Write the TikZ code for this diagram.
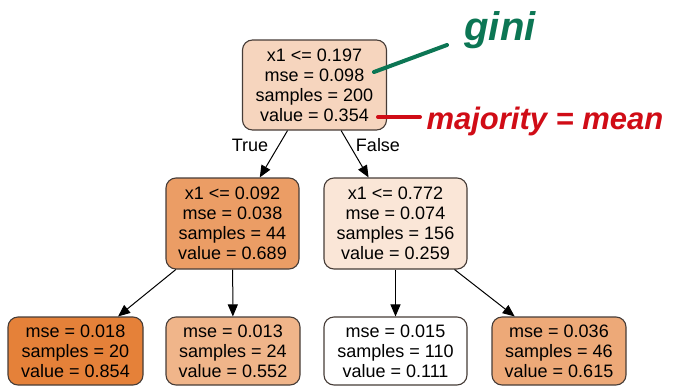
\documentclass[tikz,border=0pt]{standalone}
\usepackage{fontspec}
\setmainfont{Liberation Sans}
\usetikzlibrary{arrows.meta}

\definecolor{skorange}{RGB}{229,129,57}
\definecolor{boxline}{RGB}{70,60,55}
\definecolor{inkgreen}{RGB}{12,118,84}
\definecolor{inkred}{RGB}{208,12,22}

\tikzset{
  split/.style={draw=boxline, line width=1.1pt, rounded corners=10pt, align=center,
    inner sep=0pt, font=\fontsize{18}{20}\selectfont},
  edge/.style={-{Triangle[length=12pt,width=10pt]}, line width=1pt},
  ink/.style={line width=4pt, line cap=round},
}

\begin{document}
\begin{tikzpicture}[x=1pt,y=-1pt]
  \useasboundingbox (0,0) rectangle (680,386);

  \def\lw{134}   % leaf width
  \def\lh{68}    % leaf height

  % root
  \node[split, fill=skorange!33!white, minimum width=144pt, minimum height=90pt]
    (root) at (314.5,85) {x1 <= 0.197\\mse = 0.098\\samples = 200\\value = 0.354};

  % second row
  \node[split, fill=skorange!78!white, minimum width=133pt, minimum height=91pt]
    (lft) at (232.5,223.5) {x1 <= 0.092\\mse = 0.038\\samples = 44\\value = 0.689};
  \node[split, fill=skorange!20!white, minimum width=143pt, minimum height=91pt]
    (rgt) at (395.5,223.5) {x1 <= 0.772\\mse = 0.074\\samples = 156\\value = 0.259};

  % leaves
  \node[split, fill=skorange, minimum width=135pt, minimum height=\lh pt]
    (lftlft) at (75.5,351) {mse = 0.018\\samples = 20\\value = 0.854};
  \node[split, fill=skorange!59!white, minimum width=\lw pt, minimum height=\lh pt]
    (lftrgt) at (233,351) {mse = 0.013\\samples = 24\\value = 0.552};
  \node[split, fill=white, minimum width=143pt, minimum height=\lh pt]
    (rgtlft) at (395.5,351) {mse = 0.015\\samples = 110\\value = 0.111};
  \node[split, fill=skorange!68!white, minimum width=\lw pt, minimum height=\lh pt]
    (rgtrgt) at (559,351) {mse = 0.036\\samples = 46\\value = 0.615};

  % edges
  \draw[edge] (root) -- (lft);
  \draw[edge] (root) -- (rgt);
  \draw[edge] (lft) -- (lftlft);
  \draw[edge] (lft) -- (lftrgt);
  \draw[edge] (rgt) -- (rgtlft);
  \draw[edge] (rgt) -- (rgtrgt);

  \node[font=\fontsize{18}{20}\selectfont] (truelbl) at (250,145) {True};
  \node[font=\fontsize{18}{20}\selectfont] (falselbl) at (378,145) {False};

  % notes
  \coordinate (ginitip) at (374,72);
  \coordinate (giniend) at (447,45);
  \draw[ink, draw=inkgreen] (ginitip) -- (giniend);
  \node[text=inkgreen, font=\fontsize{40}{42}\selectfont\bfseries\itshape]
    (gini) at (500,30) {gini};

  \coordinate (meantip) at (378,117);
  \coordinate (meanend) at (420,117);
  \draw[ink, draw=inkred] (meantip) -- (meanend);
  \node[text=inkred, font=\fontsize{31}{33}\selectfont\bfseries\itshape, anchor=west]
    (mean) at (423,121) {majority = mean};

\end{tikzpicture}
\end{document}
